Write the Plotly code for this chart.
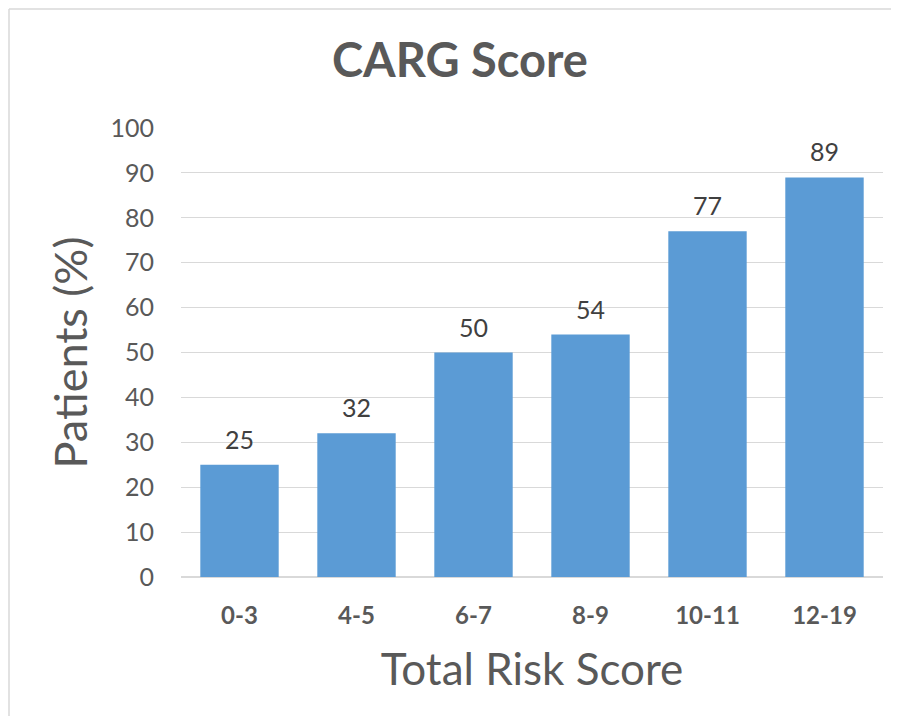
import plotly.graph_objects as go

categories = ["0-3", "4-5", "6-7", "8-9", "10-11", "12-19"]
patients_pct = [25, 32, 50, 54, 77, 89]
y_ticks = [0, 10, 20, 30, 40, 50, 60, 70, 80, 90, 100]

FONT = "Lato, 'Open Sans', sans-serif"

# page body has an 8px margin, so the figure is placed at (8, 8)
W, H = 883, 708
L, T, R, B = 173, 120, 8, 139
PW, PH = W - L - R, H - T - B

fig = go.Figure()
fig.add_trace(go.Bar(
    x=categories,
    y=patients_pct,
    marker=dict(color="#5B9BD5", line=dict(width=0)),
    cliponaxis=False,
))

for c, v in zip(categories, patients_pct):
    fig.add_annotation(x=c, y=v, xref="x", yref="y", text=str(v),
                       showarrow=False, yanchor="bottom", yshift=9,
                       font=dict(family=FONT, size=25, color="#404040"))

border = dict(color="#D9D9D9", width=1.5)
fig.update_layout(
    width=W, height=H,
    margin=dict(l=L, r=R, t=T, b=B),
    paper_bgcolor="white",
    plot_bgcolor="white",
    showlegend=False,
    title=dict(text="<b>CARG Score</b>", x=452 / W, xanchor="center",
               y=1 - 53 / H, yanchor="middle",
               font=dict(family=FONT, size=47, color="#595959")),
    xaxis=dict(
        type="category",
        showgrid=False, showline=False, zeroline=False, ticks="",
        tickfont=dict(family=FONT, size=24, color="#595959", weight="bold"),
        ticklabelstandoff=22,
        title=dict(text="Total Risk Score", standoff=26,
                   font=dict(family=FONT, size=44, color="#595959")),
        automargin=False,
    ),
    yaxis=dict(
        range=[0, 100], tickvals=y_ticks,
        showgrid=True, gridcolor="#D9D9D9", gridwidth=1,
        zeroline=True, zerolinecolor="#D9D9D9", zerolinewidth=2,
        showline=False, ticks="",
        tickfont=dict(family=FONT, size=25, color="#595959"),
        ticklabelstandoff=26,
        title=dict(text="Patients (%)", standoff=8,
                   font=dict(family=FONT, size=45, color="#595959")),
        automargin=False,
    ),
    bargap=0.33,
    shapes=[
        dict(type="line", xref="paper", yref="paper",
             x0=(1 - L) / PW, x1=(W - L) / PW,
             y0=(PH + T - 1) / PH, y1=(PH + T - 1) / PH,
             line=border, layer="below"),
        dict(type="line", xref="paper", yref="paper",
             x0=(1 - L) / PW, x1=(1 - L) / PW,
             y0=-B / PH, y1=(PH + T - 1) / PH,
             line=border, layer="below"),
    ],
)

fig.write_html("out.html")
